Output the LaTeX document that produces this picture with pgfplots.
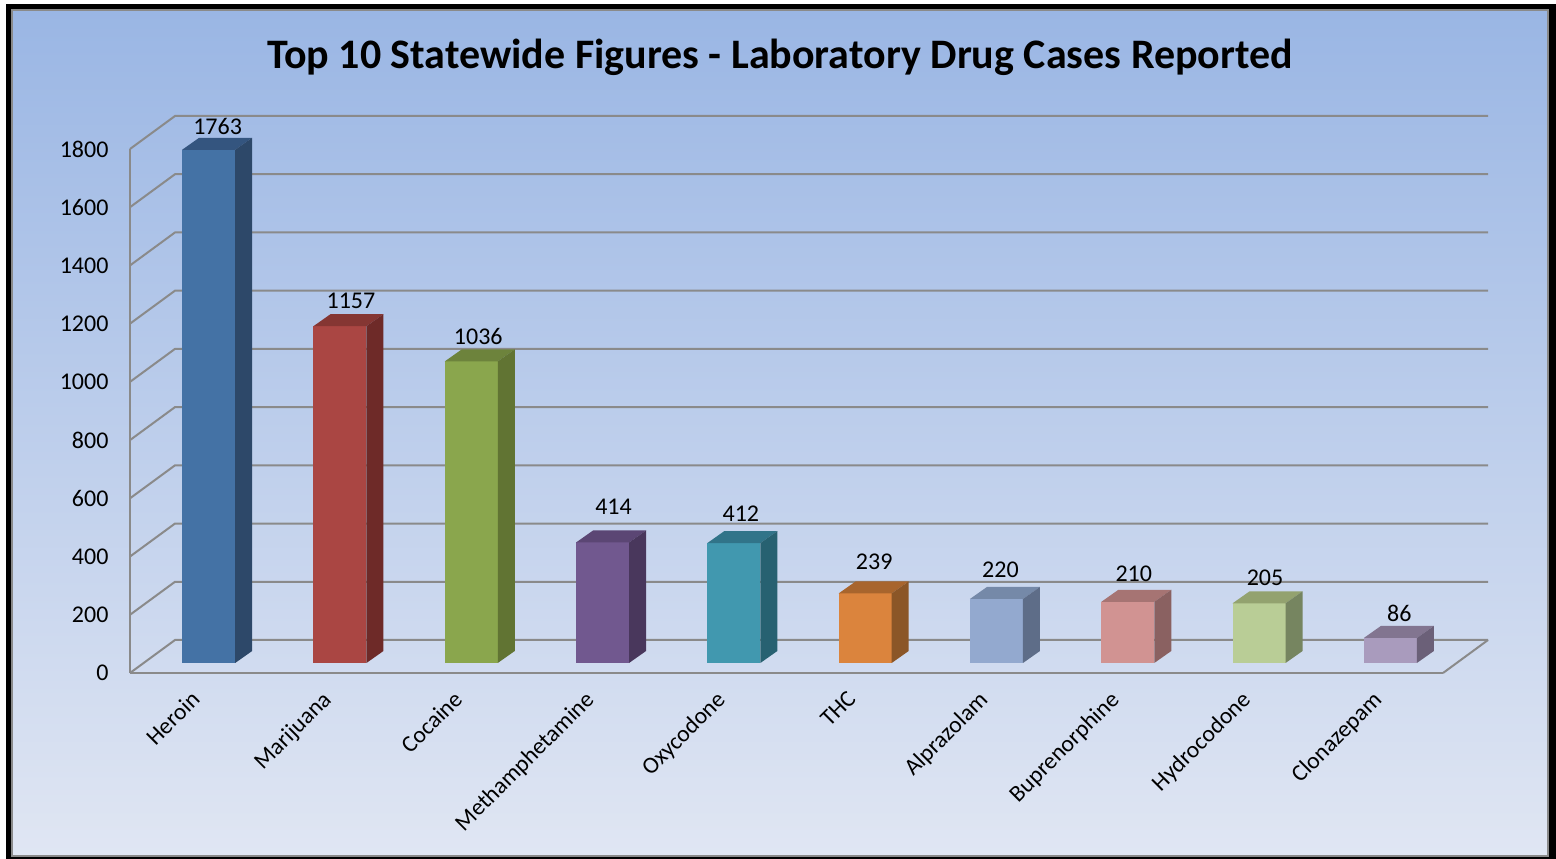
\documentclass[border=0pt]{standalone}
\usepackage{pgfplots}
\usepackage{fontspec}
\setmainfont{Carlito}
\usetikzlibrary{calc}
\pgfplotsset{compat=1.18}

\definecolor{gridgray}{HTML}{8A8A8A}
\definecolor{bgtop}{HTML}{9AB6E4}
\definecolor{bgmid}{HTML}{BBCDEB}
\definecolor{bgbot}{HTML}{E0E6F3}
\definecolor{f0}{HTML}{4472A5}\definecolor{t0}{HTML}{34557F}\definecolor{s0}{HTML}{2D4869}
\definecolor{f1}{HTML}{AA4643}\definecolor{t1}{HTML}{853633}\definecolor{s1}{HTML}{6E2A28}
\definecolor{f2}{HTML}{8AA64D}\definecolor{t2}{HTML}{6D833C}\definecolor{s2}{HTML}{617433}
\definecolor{f3}{HTML}{71588F}\definecolor{t3}{HTML}{5B4674}\definecolor{s3}{HTML}{49375C}
\definecolor{f4}{HTML}{4198AF}\definecolor{t4}{HTML}{317489}\definecolor{s4}{HTML}{276171}
\definecolor{f5}{HTML}{DB843D}\definecolor{t5}{HTML}{A8652D}\definecolor{s5}{HTML}{8B5627}
\definecolor{f6}{HTML}{93A9CF}\definecolor{t6}{HTML}{7589A8}\definecolor{s6}{HTML}{5E6D88}
\definecolor{f7}{HTML}{D19392}\definecolor{t7}{HTML}{A67473}\definecolor{s7}{HTML}{8A6161}
\definecolor{f8}{HTML}{B9CD96}\definecolor{t8}{HTML}{93A26F}\definecolor{s8}{HTML}{768560}
\definecolor{f9}{HTML}{A99BBD}\definecolor{t9}{HTML}{827590}\definecolor{s9}{HTML}{6B6078}

% one 3D column: category, value, label lift, label shift
\newcommand{\barcol}[4]{
  \addplot[ybar, bar width=53pt, bar shift=13pt, yshift=10pt, draw=none, fill=f#1,
    nodes near coords,
    every node near coord/.style={font=\fontsize{24}{26}\selectfont, text=black,
      anchor=center, xshift=#4, yshift=#3}]
    coordinates {(#1,#2)};
  \fill[t#1] (axis cs:#1,#2) ++(-13.5pt,10pt) -- ++(53pt,0pt) -- ++(17pt,12pt) -- ++(-53pt,0pt) -- cycle;
  \fill[s#1] (axis cs:#1,#2) ++(39.5pt,10pt) -- ++(17pt,12pt) -- ($(axis cs:#1,0)+(56.5pt,22pt)$) -- ++(-17pt,-12pt) -- cycle;
}

\begin{document}
\begin{tikzpicture}[x=1pt,y=1pt]
% page background, origin is the front corner of the axis
\path[use as bounding box] (-130,-186) rectangle (1426,673);
\fill[black] (-124,-186) rectangle (1426,669);
\shade[top color=bgtop, middle color=bgmid, bottom color=bgbot, draw=gridgray, line width=1.2pt]
  (-118,-183) rectangle (1418,663);
\begin{axis}[
    at={(0,0)}, anchor=south west,
    scale only axis, width=1313pt, height=524pt,
    xmin=-0.5, xmax=9.5, ymin=0, ymax=1800,
    clip=false,
    axis y line*=left, axis x line*=bottom,
    axis line style={gridgray, line width=2pt, -},
    tick style={draw=none},
    xtick={0,...,9},
    xticklabels={Heroin,Marijuana,Cocaine,Methamphetamine,Oxycodone,THC,Alprazolam,Buprenorphine,Hydrocodone,Clonazepam},
    xticklabel style={rotate=45, anchor=north east, font=\fontsize{23.5}{25}\selectfont, xshift=-12.5pt, yshift=-4pt},
    ytick={0,200,...,1800},
    yticklabel style={font=\fontsize{24}{26}\selectfont, xshift=-18pt},
    /pgf/number format/assume math mode=true,
    /pgf/number format/1000 sep={},
    title={Top 10 Statewide Figures - Laboratory Drug Cases Reported},
    title style={at={(0.495,1.164)}, anchor=center, font=\fontsize{42}{44}\selectfont\bfseries},
]
% back wall and side wall
\pgfplotsinvokeforeach{0,200,...,1800}{
  \draw[gridgray, line width=2pt] (axis cs:-0.5,#1) -- ++(45pt,33pt) -- ++(1313pt,0pt);
}
\draw[gridgray, line width=2pt] (axis cs:9.5,0) -- ++(45pt,33pt);

\barcol{0}{1763}{23pt}{22pt}
\barcol{1}{1157}{25pt}{24pt}
\barcol{2}{1036}{25pt}{20pt}
\barcol{3}{414}{36pt}{24pt}
\barcol{4}{412}{29pt}{20pt}
\barcol{5}{239}{32pt}{22pt}
\barcol{6}{220}{29pt}{17pt}
\barcol{7}{210}{28pt}{19pt}
\barcol{8}{205}{26pt}{19pt}
\barcol{9}{86}{25pt}{22pt}
\end{axis}
\end{tikzpicture}
\end{document}
